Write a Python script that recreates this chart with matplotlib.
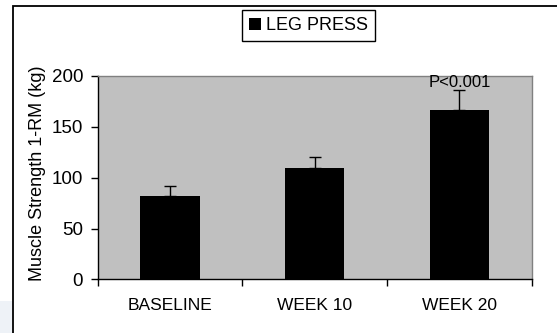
import matplotlib
matplotlib.use("Agg")
import matplotlib.pyplot as plt
from matplotlib.patches import Rectangle
import numpy as np

categories = ["BASELINE", "WEEK 10", "WEEK 20"]
strength = [82, 110, 167]
sd_upper = [10, 10, 19]
series_name = "LEG PRESS"
yticks = [0, 50, 100, 150, 200]

plt.rcParams['font.family'] = ['Liberation Sans', 'DejaVu Sans']

fig = plt.figure(figsize=(5.57, 3.33), dpi=100)

# outer frame and the faint decoration in the corner
fig.patches.append(Rectangle((0, 0.0), 0.022, 0.095, transform=fig.transFigure,
                             facecolor="#eef2f7", edgecolor="none", zorder=0))
fig.patches.append(Rectangle((13 / 557, -0.1), 1.1, 1.1 - 6 / 333,
                             transform=fig.transFigure, facecolor="none",
                             edgecolor="black", linewidth=1.3, zorder=1))

ax = fig.add_axes([0.1754, 0.1607, 0.9548 - 0.1754, 0.7718 - 0.1607])
ax.set_facecolor("#c0c0c0")

x = np.arange(len(categories))
bars = ax.bar(x, strength, width=0.41, color="black", label=series_name, zorder=2)
ax.errorbar(x, strength, yerr=[np.zeros(len(sd_upper)), sd_upper], fmt="none",
            ecolor="black", elinewidth=1, capsize=4.3, capthick=1, zorder=3)

ax.text(x[2], 189, "P<0.001", ha="center", va="baseline", fontsize=12, zorder=4)

ax.set_xlim(-0.5, 2.5)
ax.set_ylim(0, 200)
ax.set_yticks(yticks)
ax.tick_params(axis="y", labelsize=13.5, length=5, width=1, direction="out", pad=5.5)

# ticks at category boundaries, labels in the middle
ax.set_xticks([-0.5, 0.5, 1.5, 2.5])
ax.set_xticklabels([])
ax.set_xticks(x, minor=True)
ax.set_xticklabels(categories, minor=True, fontsize=12.5)
ax.tick_params(axis="x", which="major", length=5, width=1, direction="out")
ax.tick_params(axis="x", which="minor", length=0, pad=13)

for side in ["top", "right"]:
    ax.spines[side].set_color("#808080")
    ax.spines[side].set_linewidth(1)
for side in ["left", "bottom"]:
    ax.spines[side].set_color("black")
    ax.spines[side].set_linewidth(1)

ax.set_ylabel("Muscle Strength 1-RM (kg)", fontsize=13)
ax.yaxis.set_label_coords(-0.118, 0.52)

fig.legend(handles=[bars], labels=[series_name], loc="center",
           bbox_to_anchor=(308.5 / 557, 1 - 25.5 / 333), fontsize=13,
           frameon=True, fancybox=False, edgecolor="black", framealpha=1,
           handlelength=0.65, handleheight=0.65, handletextpad=0.3,
           borderpad=0.4, borderaxespad=0)

fig.savefig("out.png", dpi=100)
